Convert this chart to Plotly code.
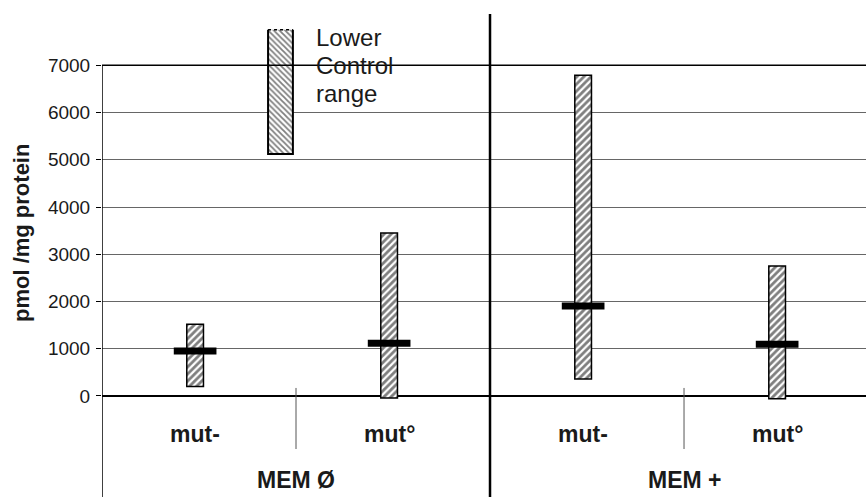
import plotly.graph_objects as go

# ---- data ----
categories = ["mut-", "mut°", "mut-", "mut°"]
groups = ["MEM Ø", "MEM +"]
range_low = [200, -40, 360, -60]
range_high = [1520, 3450, 6790, 2750]
medians = [955, 1115, 1905, 1095]
control_low = 5120
control_high = 7750
control_label_lines = ["Lower", "Control", "range"]
y_ticks = [0, 1000, 2000, 3000, 4000, 5000, 6000, 7000]

# ---- layout constants ----
FONT = "Arial, Liberation Sans, sans-serif"
pos = [i + 0.48 for i in range(len(categories))]
BAR_W = 0.086
MED_HALF = 0.11
CTRL_X = 0.92
CTRL_W = 0.128
X_MAX = 3.938
Y_MIN, Y_MAX = -2138, 8382

fig = go.Figure()

# range bars
fig.add_trace(go.Bar(
    x=pos, base=range_low,
    y=[h - l for h, l in zip(range_high, range_low)],
    width=BAR_W,
    marker=dict(color="white",
                pattern=dict(shape="/", fgcolor="black", bgcolor="white",
                             size=5, solidity=0.55),
                line=dict(color="black", width=1.5)),
    showlegend=False, hoverinfo="skip"))

# control range bar
fig.add_trace(go.Bar(
    x=[CTRL_X], base=[control_low], y=[control_high - control_low],
    width=CTRL_W,
    marker=dict(color="white",
                pattern=dict(shape="\\", fgcolor="black", bgcolor="white",
                             size=4, solidity=0.45),
                line=dict(width=0)),
    showlegend=False, hoverinfo="skip"))
cl, cr = CTRL_X - CTRL_W / 2, CTRL_X + CTRL_W / 2
fig.add_trace(go.Scatter(
    x=[cl, cl, cr, cr], y=[control_high, control_low, control_low, control_high],
    mode="lines", line=dict(color="black", width=2),
    showlegend=False, hoverinfo="skip"))
fig.add_trace(go.Scatter(
    x=[cl, cr], y=[control_high, control_high],
    mode="lines", line=dict(color="black", width=1.5, dash="dot"),
    showlegend=False, hoverinfo="skip"))

# median markers
mx, my = [], []
for p, m in zip(pos, medians):
    mx += [p - MED_HALF, p + MED_HALF, None]
    my += [m, m, None]
fig.add_trace(go.Scatter(x=mx, y=my, mode="lines",
                         line=dict(color="black", width=7),
                         showlegend=False, hoverinfo="skip"))

shapes = [
    dict(type="line", xref="x", yref="y", x0=0, x1=0, y0=y_ticks[-1], y1=Y_MIN,
         line=dict(color="black", width=1.5)),
    dict(type="line", xref="x", yref="y", x0=0, x1=X_MAX, y0=y_ticks[-1], y1=y_ticks[-1],
         line=dict(color="black", width=1.5)),
    dict(type="line", xref="x", yref="y", x0=2, x1=2, y0=8087, y1=Y_MIN,
         line=dict(color="black", width=2.5)),
    dict(type="line", xref="x", yref="y", x0=1, x1=1, y0=170, y1=-1122,
         line=dict(color="#555555", width=1)),
    dict(type="line", xref="x", yref="y", x0=3, x1=3, y0=170, y1=-1122,
         line=dict(color="#555555", width=1)),
]

annotations = []
for p, c in zip(pos, categories):
    annotations.append(dict(x=p, y=-804, xref="x", yref="y", text=f"<b>{c}</b>",
                            showarrow=False,
                            font=dict(family=FONT, size=23, color="#1a1a1a"),
                            xanchor="center", yanchor="middle"))
for i, g in enumerate(groups):
    annotations.append(dict(x=1 + 2 * i, y=-1778, xref="x", yref="y",
                            text=f"<b>{g}</b>", showarrow=False,
                            font=dict(family=FONT, size=23, color="#1a1a1a"),
                            xanchor="center", yanchor="middle"))
for line, yv in zip(control_label_lines, [7578, 6986, 6393]):
    annotations.append(dict(x=1.095, y=yv, xref="x", yref="y", text=line,
                            showarrow=False, align="left",
                            font=dict(family=FONT, size=24, color="#1a1a1a"),
                            xanchor="left", yanchor="middle"))
annotations.append(dict(x=-0.106, y=3450, xref="paper", yref="y",
                        text="<b>pmol /mg protein</b>", textangle=-90, showarrow=False,
                        font=dict(family=FONT, size=22, color="#1a1a1a"),
                        xanchor="center", yanchor="middle"))

fig.update_layout(
    width=866, height=497,
    margin=dict(l=102, r=0, t=0, b=0),
    paper_bgcolor="white", plot_bgcolor="white",
    barmode="overlay",
    shapes=shapes, annotations=annotations,
    xaxis=dict(range=[0, X_MAX], visible=False),
    yaxis=dict(range=[Y_MIN, Y_MAX], tickvals=y_ticks,
               ticktext=[str(v) for v in y_ticks],
               showgrid=True, gridcolor="#666666", gridwidth=1,
               zeroline=True, zerolinecolor="black", zerolinewidth=1.5,
               ticks="outside", ticklen=5, tickcolor="black", tickwidth=1,
               showline=False, ticklabelstandoff=2,
               tickfont=dict(family=FONT, size=19, color="#1a1a1a")),
    font=dict(family=FONT),
)

fig.write_html("out.html", config={"displayModeBar": False},
               post_script="document.body.style.margin='0';document.body.style.overflow='hidden';")
